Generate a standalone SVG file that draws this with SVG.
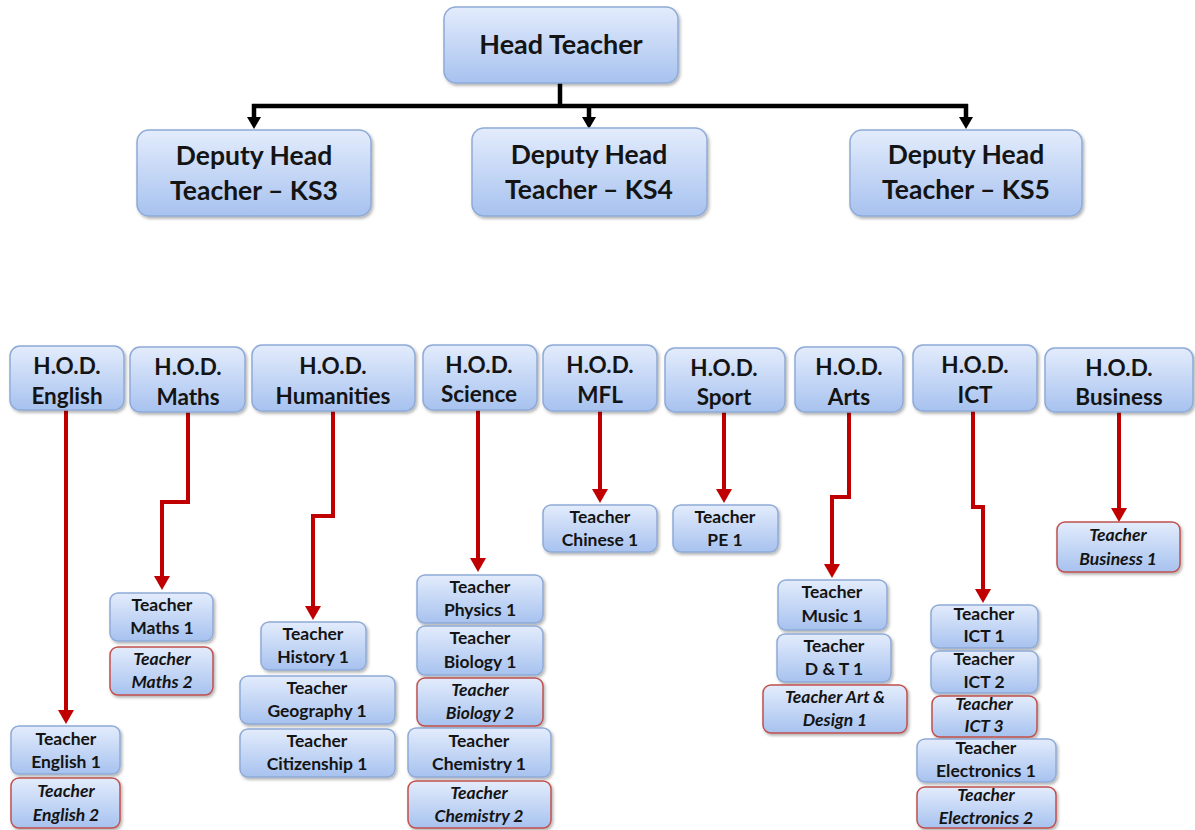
<svg xmlns="http://www.w3.org/2000/svg" width="1195" height="830" viewBox="0 0 1195 830">
<style>
.b{fill:url(#g);stroke:#8eaad6;stroke-width:1.5;filter:url(#sh)}
.r{fill:url(#g);stroke:#c0504d;stroke-width:1.5;filter:url(#sh)}
text{font-family:Lato,"Open Sans","Liberation Sans",sans-serif;font-weight:bold;fill:#141414;text-anchor:middle}
.hd{font-size:27px}
.dp{font-size:26.5px}
.ho{font-size:22.5px}
.tc{font-size:17.5px}
.it{font-style:italic}
.k{fill:none;stroke:#000;stroke-width:4.5}
.k2{fill:none;stroke:#000;stroke-width:4.5;marker-end:url(#ak)}
.rd{fill:none;stroke:#c00000;stroke-width:4;marker-end:url(#ar)}
</style>
<defs>
<linearGradient id="g" x1="0" y1="0" x2="0" y2="1">
<stop offset="0" stop-color="#e3ecfc"/>
<stop offset="1" stop-color="#a7c2ef"/>
</linearGradient>
<filter id="sh" x="-10%" y="-10%" width="120%" height="130%">
<feDropShadow dx="1.5" dy="2" stdDeviation="1.5" flood-color="#000" flood-opacity="0.3"/>
</filter>
<marker id="ak" markerUnits="userSpaceOnUse" markerWidth="14" markerHeight="14" refX="0" refY="7" orient="auto">
<path d="M0,0 L12,7 L0,14 z" fill="#000"/>
</marker>
<marker id="ar" markerUnits="userSpaceOnUse" markerWidth="16" markerHeight="16" refX="0" refY="8" orient="auto">
<path d="M0,0 L14,8 L0,16 z" fill="#c00000"/>
</marker>
</defs>
<rect width="1195" height="830" fill="#fff"/>

<g id="connectors">
<path class="k" d="M560,83 V106"/>
<path class="k" d="M252,106 H968"/>
<path class="k2" d="M254,104 V117"/>
<path class="k2" d="M589,104 V117"/>
<path class="k2" d="M966,104 V117"/>
<path class="rd" d="M66,410 V710"/>
<path class="rd" d="M188,412 V502 H162 V576"/>
<path class="rd" d="M333,411 V516 H313 V606"/>
<path class="rd" d="M478,410 V558"/>
<path class="rd" d="M600,411 V489"/>
<path class="rd" d="M724,412 V489"/>
<path class="rd" d="M849,412 V497 H832 V564"/>
<path class="rd" d="M973,411 V507 H983 V589"/>
<path class="rd" d="M1119,412 V508"/>
</g>

<g id="head"><rect class="b" x="444" y="7" width="234" height="76" rx="12"/><text class="hd" x="561" y="54">Head Teacher</text></g>

<g id="dep3"><rect class="b" x="137" y="130" width="234" height="86" rx="12"/><text class="dp" x="254" y="165">Deputy Head</text><text class="dp" x="254" y="200">Teacher – KS3</text></g>
<g id="dep4"><rect class="b" x="472" y="128" width="235" height="88" rx="12"/><text class="dp" x="589" y="164">Deputy Head</text><text class="dp" x="589" y="199">Teacher – KS4</text></g>
<g id="dep5"><rect class="b" x="850" y="130" width="232" height="86" rx="12"/><text class="dp" x="966" y="164">Deputy Head</text><text class="dp" x="966" y="199">Teacher – KS5</text></g>

<g id="hod-english"><rect class="b" x="10" y="346" width="114" height="64" rx="10"/><text class="ho" x="67" y="374">H.O.D.</text><text class="ho" x="67" y="404">English</text></g>
<g id="hod-maths"><rect class="b" x="130" y="347" width="115" height="65" rx="10"/><text class="ho" x="188" y="375">H.O.D.</text><text class="ho" x="188" y="405">Maths</text></g>
<g id="hod-humanities"><rect class="b" x="252" y="345" width="163" height="66" rx="10"/><text class="ho" x="333" y="374">H.O.D.</text><text class="ho" x="333" y="404">Humanities</text></g>
<g id="hod-science"><rect class="b" x="423" y="345" width="114" height="65" rx="10"/><text class="ho" x="479" y="373">H.O.D.</text><text class="ho" x="479" y="402">Science</text></g>
<g id="hod-mfl"><rect class="b" x="543" y="345" width="114" height="66" rx="10"/><text class="ho" x="600" y="373">H.O.D.</text><text class="ho" x="600" y="403">MFL</text></g>
<g id="hod-sport"><rect class="b" x="665" y="348" width="120" height="64" rx="10"/><text class="ho" x="724" y="376">H.O.D.</text><text class="ho" x="724" y="405">Sport</text></g>
<g id="hod-arts"><rect class="b" x="795" y="347" width="108" height="65" rx="10"/><text class="ho" x="849" y="375">H.O.D.</text><text class="ho" x="849" y="405">Arts</text></g>
<g id="hod-ict"><rect class="b" x="913" y="345" width="124" height="66" rx="10"/><text class="ho" x="975" y="373">H.O.D.</text><text class="ho" x="975" y="403">ICT</text></g>
<g id="hod-business"><rect class="b" x="1045" y="348" width="148" height="64" rx="10"/><text class="ho" x="1119" y="376">H.O.D.</text><text class="ho" x="1119" y="405">Business</text></g>

<g id="t-english1"><rect class="b" x="11" y="726" width="109" height="48" rx="8"/><text class="tc" x="66" y="745">Teacher</text><text class="tc" x="66" y="768">English 1</text></g>
<g id="t-english2"><rect class="r" x="11" y="778" width="109" height="50" rx="8"/><text class="tc it" x="66" y="797">Teacher</text><text class="tc it" x="66" y="821">English 2</text></g>
<g id="t-maths1"><rect class="b" x="110" y="593" width="103" height="48" rx="8"/><text class="tc" x="162" y="611">Teacher</text><text class="tc" x="162" y="634">Maths 1</text></g>
<g id="t-maths2"><rect class="r" x="110" y="647" width="103" height="48" rx="8"/><text class="tc it" x="162" y="665">Teacher</text><text class="tc it" x="162" y="688">Maths 2</text></g>
<g id="t-history1"><rect class="b" x="261" y="622" width="105" height="48" rx="8"/><text class="tc" x="313" y="640">Teacher</text><text class="tc" x="313" y="663">History 1</text></g>
<g id="t-geography1"><rect class="b" x="240" y="676" width="155" height="48" rx="8"/><text class="tc" x="317" y="694">Teacher</text><text class="tc" x="317" y="717">Geography 1</text></g>
<g id="t-citizenship1"><rect class="b" x="240" y="729" width="155" height="48" rx="8"/><text class="tc" x="317" y="747">Teacher</text><text class="tc" x="317" y="770">Citizenship 1</text></g>
<g id="t-physics1"><rect class="b" x="417" y="575" width="126" height="48" rx="8"/><text class="tc" x="480" y="593">Teacher</text><text class="tc" x="480" y="616">Physics 1</text></g>
<g id="t-biology1"><rect class="b" x="417" y="626" width="126" height="49" rx="8"/><text class="tc" x="480" y="644">Teacher</text><text class="tc" x="480" y="668">Biology 1</text></g>
<g id="t-biology2"><rect class="r" x="417" y="678" width="126" height="48" rx="8"/><text class="tc it" x="480" y="696">Teacher</text><text class="tc it" x="480" y="719">Biology 2</text></g>
<g id="t-chemistry1"><rect class="b" x="408" y="728" width="143" height="49" rx="8"/><text class="tc" x="479" y="747">Teacher</text><text class="tc" x="479" y="770">Chemistry 1</text></g>
<g id="t-chemistry2"><rect class="r" x="408" y="781" width="143" height="47" rx="8"/><text class="tc it" x="479" y="799">Teacher</text><text class="tc it" x="479" y="822">Chemistry 2</text></g>
<g id="t-chinese1"><rect class="b" x="543" y="505" width="114" height="47" rx="8"/><text class="tc" x="600" y="523">Teacher</text><text class="tc" x="600" y="546">Chinese 1</text></g>
<g id="t-pe1"><rect class="b" x="673" y="505" width="105" height="47" rx="8"/><text class="tc" x="725" y="523">Teacher</text><text class="tc" x="725" y="546">PE 1</text></g>
<g id="t-music1"><rect class="b" x="778" y="580" width="109" height="50" rx="8"/><text class="tc" x="832" y="598">Teacher</text><text class="tc" x="832" y="622">Music 1</text></g>
<g id="t-dt1"><rect class="b" x="777" y="634" width="114" height="48" rx="8"/><text class="tc" x="834" y="652">Teacher</text><text class="tc" x="834" y="675">D &amp; T 1</text></g>
<g id="t-artdesign1"><rect class="r" x="763" y="685" width="144" height="48" rx="8"/><text class="tc it" x="835" y="703">Teacher Art &amp;</text><text class="tc it" x="835" y="726">Design 1</text></g>
<g id="t-ict1"><rect class="b" x="931" y="605" width="107" height="43" rx="8"/><text class="tc" x="984" y="620">Teacher</text><text class="tc" x="984" y="642">ICT 1</text></g>
<g id="t-ict2"><rect class="b" x="931" y="651" width="107" height="42" rx="8"/><text class="tc" x="984" y="665">Teacher</text><text class="tc" x="984" y="688">ICT 2</text></g>
<g id="t-ict3"><rect class="r" x="932" y="696" width="105" height="41" rx="8"/><text class="tc it" x="984" y="710">Teacher</text><text class="tc it" x="984" y="732">ICT 3</text></g>
<g id="t-electronics1"><rect class="b" x="917" y="739" width="139" height="43" rx="8"/><text class="tc" x="986" y="754">Teacher</text><text class="tc" x="986" y="777">Electronics 1</text></g>
<g id="t-electronics2"><rect class="r" x="917" y="787" width="139" height="41" rx="8"/><text class="tc it" x="986" y="801">Teacher</text><text class="tc it" x="986" y="824">Electronics 2</text></g>
<g id="t-business1"><rect class="r" x="1057" y="522" width="123" height="50" rx="8"/><text class="tc it" x="1118" y="541">Teacher</text><text class="tc it" x="1118" y="565">Business 1</text></g>
</svg>
